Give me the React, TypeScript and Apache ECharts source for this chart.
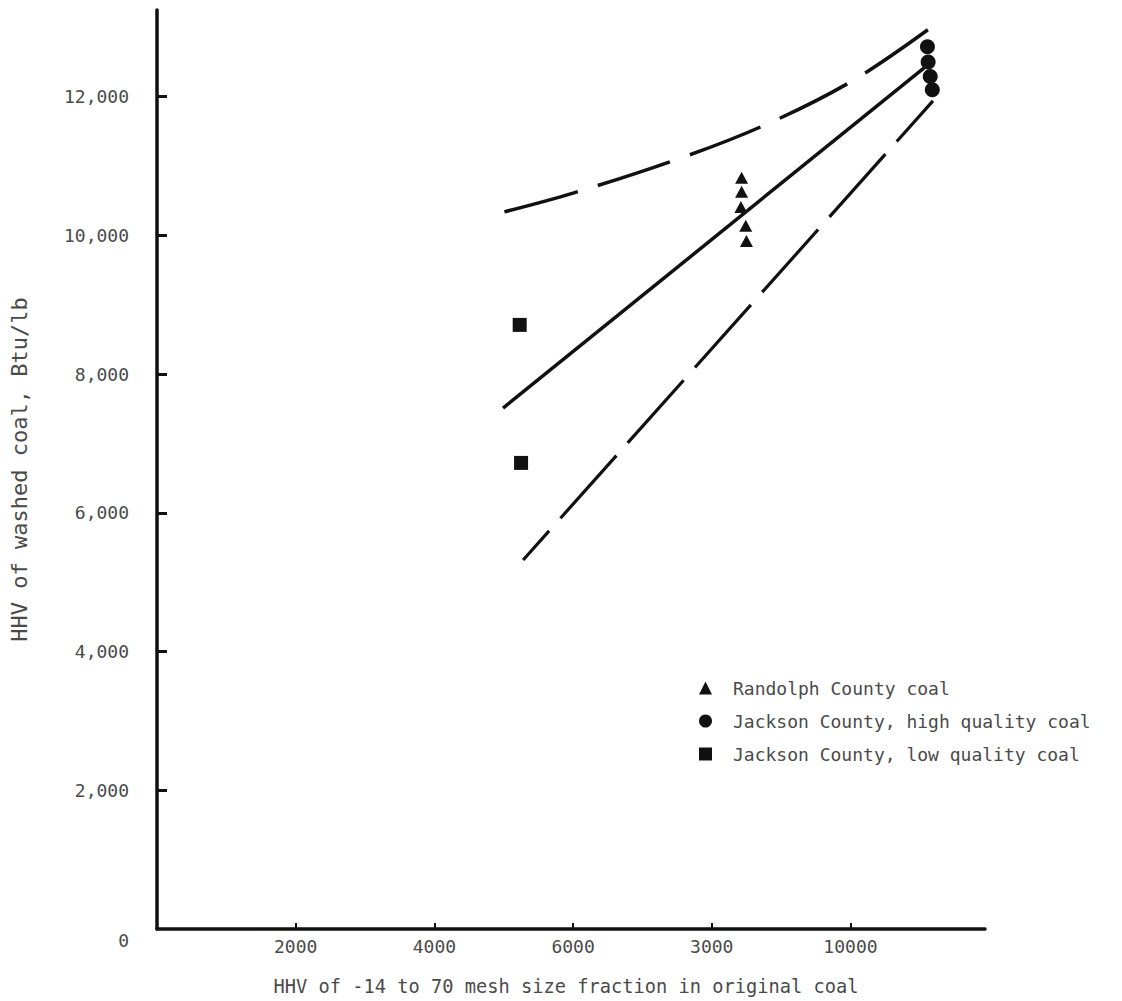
import React, { useEffect, useRef } from "react";
import * as echarts from "echarts";

// Randolph County coal (triangles)
const randolphX = [8430, 8430, 8420, 8490, 8500];
const randolphY = [10830, 10630, 10410, 10140, 9920];

// Jackson County, high quality coal (circles)
const jacksonHighX = [11110, 11120, 11150, 11180];
const jacksonHighY = [12720, 12500, 12290, 12100];

// Jackson County, low quality coal (squares)
const jacksonLowX = [5230, 5250];
const jacksonLowY = [8710, 6720];

// Fitted line and its upper / lower bounds
const fitX = [4990, 11080];
const fitY = [7510, 12430];
const upperX = [5010, 6000, 7480, 8740, 10030, 11150];
const upperY = [10340, 10610, 11090, 11580, 12230, 12990];
const lowerX = [5280, 11190];
const lowerY = [5320, 11940];

// Axis ticks and their printed labels
const xTickValues = [2000, 4000, 6000, 8000, 10000];
const xTickLabels = ["2000", "4000", "6000", "3000", "10000"];
const yTickValues = [0, 2000, 4000, 6000, 8000, 10000, 12000];
const yTickLabels = ["0", "2,000", "4,000", "6,000", "8,000", "10,000", "12,000"];

const seriesNames = [
  "Randolph County coal",
  "Jackson County, high quality coal",
  "Jackson County, low quality coal",
];

const FONT = "DejaVu Sans Mono";
const TEXT_COLOR = "#4a4a4a";
const INK = "#111111";

const zip = (xs: number[], ys: number[]) => xs.map((x, i) => [x, ys[i]]);

export default function App() {
  const ref = useRef<HTMLDivElement>(null);

  useEffect(() => {
    if (!ref.current) return;
    const chart = echarts.init(ref.current, undefined, { renderer: "svg" });

    const markerStyle = { color: INK, opacity: 1 };

    const option: any = {
      animation: false,
      backgroundColor: "#ffffff",
      grid: { left: 155, right: 137, top: 10, bottom: 72 },
      legend: {
        orient: "vertical",
        left: 694,
        top: 673,
        itemWidth: 13,
        itemHeight: 13,
        itemGap: 13,
        data: seriesNames,
        itemStyle: { opacity: 1 },
        textStyle: {
          fontFamily: FONT,
          fontSize: 18,
          lineHeight: 20,
          color: TEXT_COLOR,
          padding: [0, 0, 0, 16],
        },
      },
      xAxis: {
        type: "value",
        min: 0,
        max: 11940,
        splitLine: { show: false },
        axisLine: { show: true, lineStyle: { color: INK, width: 3.5 } },
        axisTick: {
          show: true,
          inside: true,
          length: 6,
          customValues: xTickValues,
          lineStyle: { color: INK, width: 2 },
        },
        axisLabel: {
          customValues: xTickValues,
          margin: 8,
          fontFamily: FONT,
          fontSize: 18,
          color: TEXT_COLOR,
          formatter: (v: number) => {
            const i = xTickValues.indexOf(v);
            return i >= 0 ? xTickLabels[i] : "";
          },
        },
        name: "HHV of -14 to 70 mesh size fraction in original coal",
        nameLocation: "middle",
        nameGap: 48,
        nameTextStyle: { fontFamily: FONT, fontSize: 18.7, color: TEXT_COLOR, padding: [0, 10, 0, 0] },
      },
      yAxis: {
        type: "value",
        min: 0,
        max: 13250,
        splitLine: { show: false },
        axisLine: { show: true, lineStyle: { color: INK, width: 3.5 } },
        axisTick: {
          show: true,
          inside: true,
          length: 10,
          customValues: yTickValues.slice(1),
          lineStyle: { color: INK, width: 3 },
        },
        axisLabel: {
          customValues: yTickValues,
          margin: 28,
          fontFamily: FONT,
          fontSize: 18,
          color: TEXT_COLOR,
          formatter: (v: number) => {
            const i = yTickValues.indexOf(v);
            if (i < 0) return "";
            return v === 0 ? "{z|" + yTickLabels[i] + "}" : yTickLabels[i];
          },
          rich: {
            z: {
              fontFamily: FONT,
              fontSize: 18,
              color: TEXT_COLOR,
              padding: [22, 0, 0, 0],
            },
          },
        },
        name: "HHV of washed coal, Btu/lb",
        nameLocation: "middle",
        nameGap: 127,
        nameTextStyle: { fontFamily: FONT, fontSize: 22, color: TEXT_COLOR },
      },
      series: [
        {
          name: seriesNames[0],
          type: "scatter",
          symbol: "triangle",
          symbolSize: [13, 12],
          itemStyle: markerStyle,
          data: zip(randolphX, randolphY),
          z: 5,
        },
        {
          name: seriesNames[1],
          type: "scatter",
          symbol: "circle",
          symbolSize: 15,
          itemStyle: markerStyle,
          data: zip(jacksonHighX, jacksonHighY),
          z: 5,
        },
        {
          name: seriesNames[2],
          type: "scatter",
          symbol: "rect",
          symbolSize: 14,
          itemStyle: markerStyle,
          data: zip(jacksonLowX, jacksonLowY),
          z: 5,
        },
        {
          name: "fit",
          type: "line",
          showSymbol: false,
          symbol: "none",
          lineStyle: { color: INK, width: 3.5 },
          data: zip(fitX, fitY),
          z: 3,
        },
        {
          name: "upper",
          type: "line",
          showSymbol: false,
          symbol: "none",
          smooth: 0.35,
          lineStyle: { color: INK, width: 3.5, type: [76, 21] },
          data: zip(upperX, upperY),
          z: 3,
        },
        {
          name: "lower",
          type: "line",
          showSymbol: false,
          symbol: "none",
          lineStyle: { color: INK, width: 3.2, type: [84, 17], dashOffset: 45 },
          data: zip(lowerX, lowerY),
          z: 3,
        },
      ],
    };

    chart.setOption(option);
    return () => chart.dispose();
  }, []);

  return (
    <div
      ref={ref}
      style={{ position: "fixed", left: 0, top: 0, width: 1122, height: 1001, background: "#fff" }}
    />
  );
}
